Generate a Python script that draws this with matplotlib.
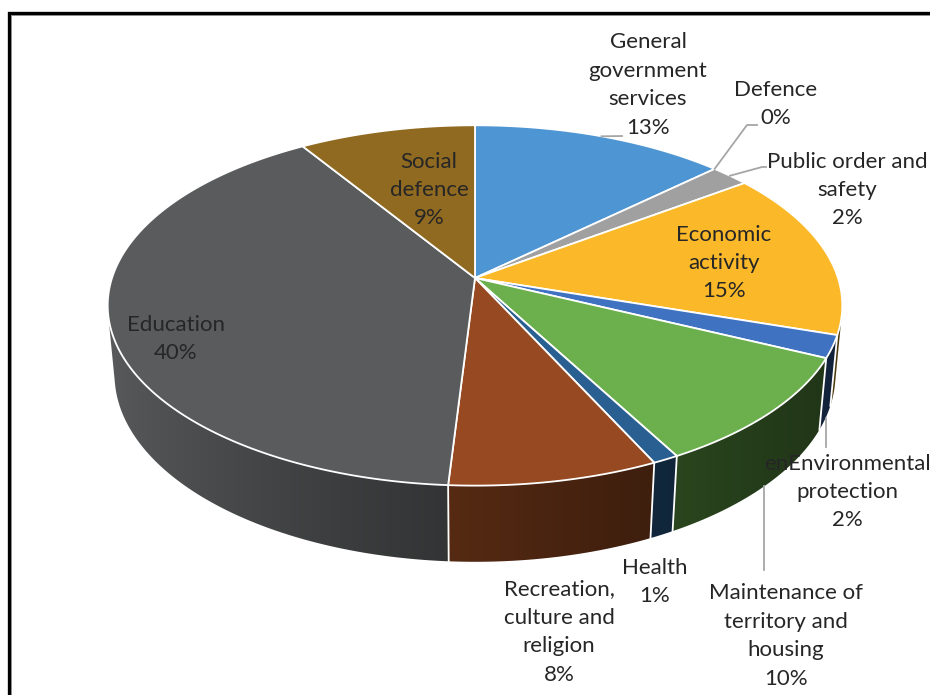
import numpy as np
import matplotlib
matplotlib.use("Agg")
import matplotlib.pyplot as plt
from matplotlib.patches import Polygon
from matplotlib.colors import to_rgb

# ---------------- data ----------------
categories = ["General\ngovernment\nservices", "Defence", "Public order and\nsafety",
              "Economic\nactivity", "enEnvironmental\nprotection",
              "Maintenance of\nterritory and\nhousing", "Health",
              "Recreation,\nculture and\nreligion", "Education", "Social\ndefence"]
values = [13, 0, 2, 15, 2, 10, 1, 8, 40, 9]
pct_labels = ["13%", "0%", "2%", "15%", "2%", "10%", "1%", "8%", "40%", "9%"]
colors = ["#4E95D3", "#ED7D31", "#A0A0A0", "#FBB929", "#4072C2",
          "#6BB04D", "#2A5F92", "#974A21", "#595B5C", "#906A20"]

# ---------------- layout (pixels) ----------------
W, H = 930, 695
cx, cy, k = 475, 278, 363
elev = np.deg2rad(29)
dist = 5.74
depth = 0.22
label_pos = [(648, 85), (776, 104), (847, 190), (724, 263), (847, 492),
             (786, 636), (655, 582), (559, 632), (176, 339), (429, 190)]
# leader: (anchor rim 'top'/'bottom'/None, list of elbow points)
leaders = [("top", [(622, 136)]), ("top", [(747, 125), (757, 125)]),
           ("top", [(762, 167), (766, 167)]), (None, []),
           ("bottom", [None, 447]), ("bottom", [None, 570]),
           (None, []), (None, []), (None, []), (None, [])]

plt.rcParams['font.family'] = ['Lato', 'DejaVu Sans']


def proj(theta, z):
    x = np.cos(theta)
    y = np.sin(theta)
    yc = y * np.sin(elev) + z * np.cos(elev)
    d = y * np.cos(elev) - z * np.sin(elev)
    s = dist / (dist + d)
    return cx + k * x * s, cy - k * yc * s


def shade_factor(theta):
    return 0.3 + 0.7 * ((1 - np.cos(theta)) / 2) ** 1.49


fig = plt.figure(figsize=(W / 100, H / 100), dpi=100)
ax = fig.add_axes([0, 0, 1, 1])
ax.set_xlim(0, W)
ax.set_ylim(H, 0)
ax.axis("off")

total = float(sum(values))
cum = np.concatenate([[0], np.cumsum(values)]) / total
starts = np.pi / 2 - 2 * np.pi * cum[:-1]
ends = np.pi / 2 - 2 * np.pi * cum[1:]

# visible front range of the cylinder wall
vis_lim = -1.0 / (dist * np.cos(elev))
t_lo = -np.pi - np.arcsin(vis_lim)      # about -168 deg
t_hi = np.arcsin(vis_lim)               # about -11 deg
t_samp = np.linspace(t_lo, t_hi, 2000)
x_samp = proj(t_samp, 0)[0]


def wrap(a):
    # bring angle into (-3pi/2, pi/2]
    while a <= -1.5 * np.pi:
        a += 2 * np.pi
    while a > 0.5 * np.pi:
        a -= 2 * np.pi
    return a


for i, (a0, a1) in enumerate(zip(starts, ends)):
    if values[i] == 0:
        continue
    hi = min(wrap(a0), t_hi)
    lo = max(a1 if a1 > -1.5 * np.pi else a1 + 2 * np.pi, t_lo)
    lo = max(a1, t_lo)
    hi = min(a0, t_hi)
    if lo >= hi:
        continue
    th = np.linspace(hi, lo, 200)
    xt, yt = proj(th, 0)
    xb, yb = proj(th[::-1], -depth)
    poly = Polygon(list(zip(xt, yt)) + list(zip(xb, yb)), closed=True,
                   facecolor="none", edgecolor="none", zorder=2)
    ax.add_patch(poly)
    x0, x1 = min(xt.min(), xb.min()) - 1, max(xt.max(), xb.max()) + 1
    y0, y1 = min(yt.min(), yb.min()) - 1, max(yt.max(), yb.max()) + 1
    cols = np.linspace(x0, x1, max(2, int(x1 - x0) * 2))
    tcol = np.interp(cols, x_samp, t_samp)
    base = np.array(to_rgb(colors[i]))
    img = shade_factor(tcol)[:, None] * base[None, :]
    im = ax.imshow(img[None, :, :], extent=[x0, x1, y1, y0], aspect="auto",
                   interpolation="bilinear", zorder=2)
    im.set_clip_path(poly)

# white boundary lines on the side
for a in starts:
    if np.sin(a) < vis_lim:
        p0 = proj(a, 0)
        p1 = proj(a, -depth)
        ax.plot([p0[0], p1[0]], [p0[1], p1[1]], color="white", lw=1.3, zorder=3)

# top faces
for i, (a0, a1) in enumerate(zip(starts, ends)):
    if values[i] == 0:
        continue
    n = max(4, int(abs(a0 - a1) / np.deg2rad(0.5)))
    th = np.linspace(a0, a1, n + 1)
    xs, ys = proj(th, 0)
    pts = [(cx, cy)] + list(zip(xs, ys))
    ax.add_patch(Polygon(pts, closed=True, facecolor=colors[i],
                         edgecolor="white", linewidth=1.3, joinstyle="round",
                         zorder=4))

# labels
for i, lab in enumerate(categories):
    x, y = label_pos[i]
    ax.text(x, y, lab + "\n" + pct_labels[i], ha="center", va="center",
            fontsize=16, color="#262626", linespacing=1.53, zorder=6)

# leader lines
for i, (kind, pts) in enumerate(leaders):
    if kind is None:
        continue
    mid = 0.5 * (starts[i] + ends[i])
    ax0 = proj(mid, 0 if kind == "top" else -depth)
    xs = [ax0[0]]
    ys = [ax0[1]]
    if kind == "bottom":
        xs.append(ax0[0])
        ys.append(pts[1])
    else:
        for p in pts:
            xs.append(p[0])
            ys.append(p[1])
    ax.plot(xs, ys, color="#A6A6A6", lw=1.3, zorder=5)

# chart border
ax.plot([9, 9, W + 5], [H + 5, 13, 13], color="black", lw=2.4,
        solid_joinstyle="miter", zorder=7)
ax.plot([11.2, 11.2, W + 5], [H + 5, 15.2, 15.2], color="#808080", lw=0.6,
        zorder=7)

ax.set_xlim(0, W)
ax.set_ylim(H, 0)
fig.savefig("out.png", dpi=100)
